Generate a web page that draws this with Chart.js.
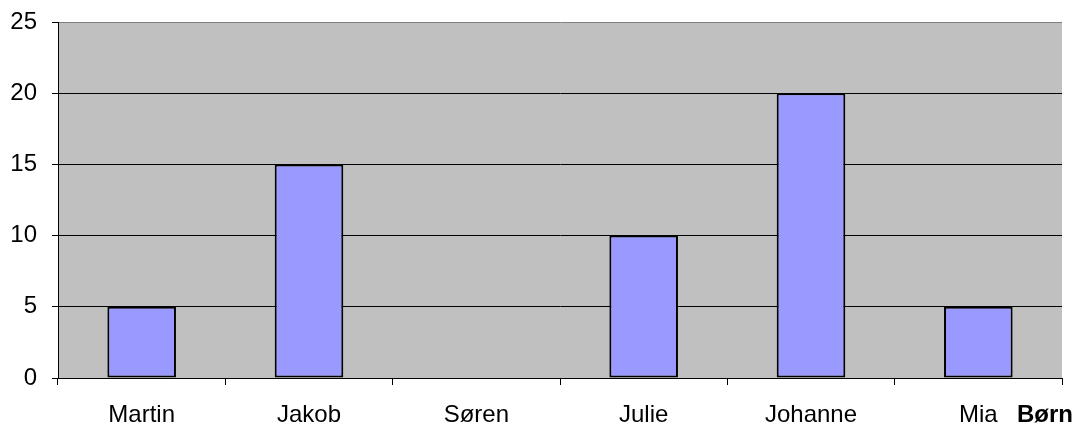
<!DOCTYPE html>
<html>
<head>
<meta charset="utf-8">
<script src="https://cdn.jsdelivr.net/npm/chart.js@4"></script>
<style>
html,body{margin:0;padding:0;background:#fff;}
#wrap{width:1081px;height:427px;position:relative;}
</style>
</head>
<body>
<div id="wrap"><canvas id="c" width="1081" height="427"></canvas></div>
<script>
const categories = ["Martin", "Jakob", "Søren", "Julie", "Johanne", "Mia"];
const values = [5, 15, 0, 10, 20, 5];
const yTicks = [0, 5, 10, 15, 20, 25];
const axisTitle = "Børn";

const FONT = "'Liberation Sans', Arial, sans-serif";

const bgPlugin = {
  id: 'bg',
  beforeDraw(chart) {
    const {ctx, chartArea: a} = chart;
    ctx.save();
    ctx.fillStyle = '#C0C0C0';
    ctx.fillRect(a.left, a.top, a.right - a.left, a.bottom - a.top);
    ctx.restore();
  },
  afterDraw(chart) {
    const {ctx} = chart;
    ctx.save();
    ctx.font = "bold 24px " + FONT;
    ctx.fillStyle = '#000';
    ctx.textAlign = 'left';
    ctx.textBaseline = 'middle';
    ctx.fillText(axisTitle, 1017, 415);
    ctx.restore();
  }
};

new Chart(document.getElementById('c'), {
  type: 'bar',
  data: {
    labels: categories,
    datasets: [{
      data: values,
      backgroundColor: '#9999FF',
      borderColor: '#000000',
      borderWidth: 2,
      borderSkipped: false,
      barPercentage: 0.41,
      categoryPercentage: 1.0
    }]
  },
  options: {
    responsive: false,
    animation: false,
    devicePixelRatio: 1,
    layout: {padding: {top: 22, right: 19, left: 0, bottom: 0}},
    plugins: {legend: {display: false}, tooltip: {enabled: false}},
    scales: {
      x: {
        offset: true,
        afterFit(s) { s.height = 49; s.paddingLeft = 0; s.paddingRight = 0; },
        grid: {
          offset: true,
          drawOnChartArea: false,
          drawTicks: true,
          tickLength: 7,
          color: '#000'
        },
        border: {display: true, color: '#000', width: 1},
        ticks: {
          color: '#000',
          font: {family: FONT, size: 24},
          padding: 16,
          maxRotation: 0
        }
      },
      y: {
        min: 0,
        max: 25,
        afterFit(s) { s.width = 58; s.paddingTop = 0; s.paddingBottom = 0; },
        afterBuildTicks(s) { s.ticks = yTicks.map(v => ({value: v})); },
        grid: {
          color: (c) => c.tick && c.tick.value === 25 ? '#808080' : '#000',
          tickColor: '#000',
          tickLength: 6,
          lineWidth: 1
        },
        border: {display: true, color: '#000', width: 1},
        ticks: {
          color: '#000',
          font: {family: FONT, size: 24},
          padding: 15
        }
      }
    }
  },
  plugins: [bgPlugin]
});
</script>
</body>
</html>
